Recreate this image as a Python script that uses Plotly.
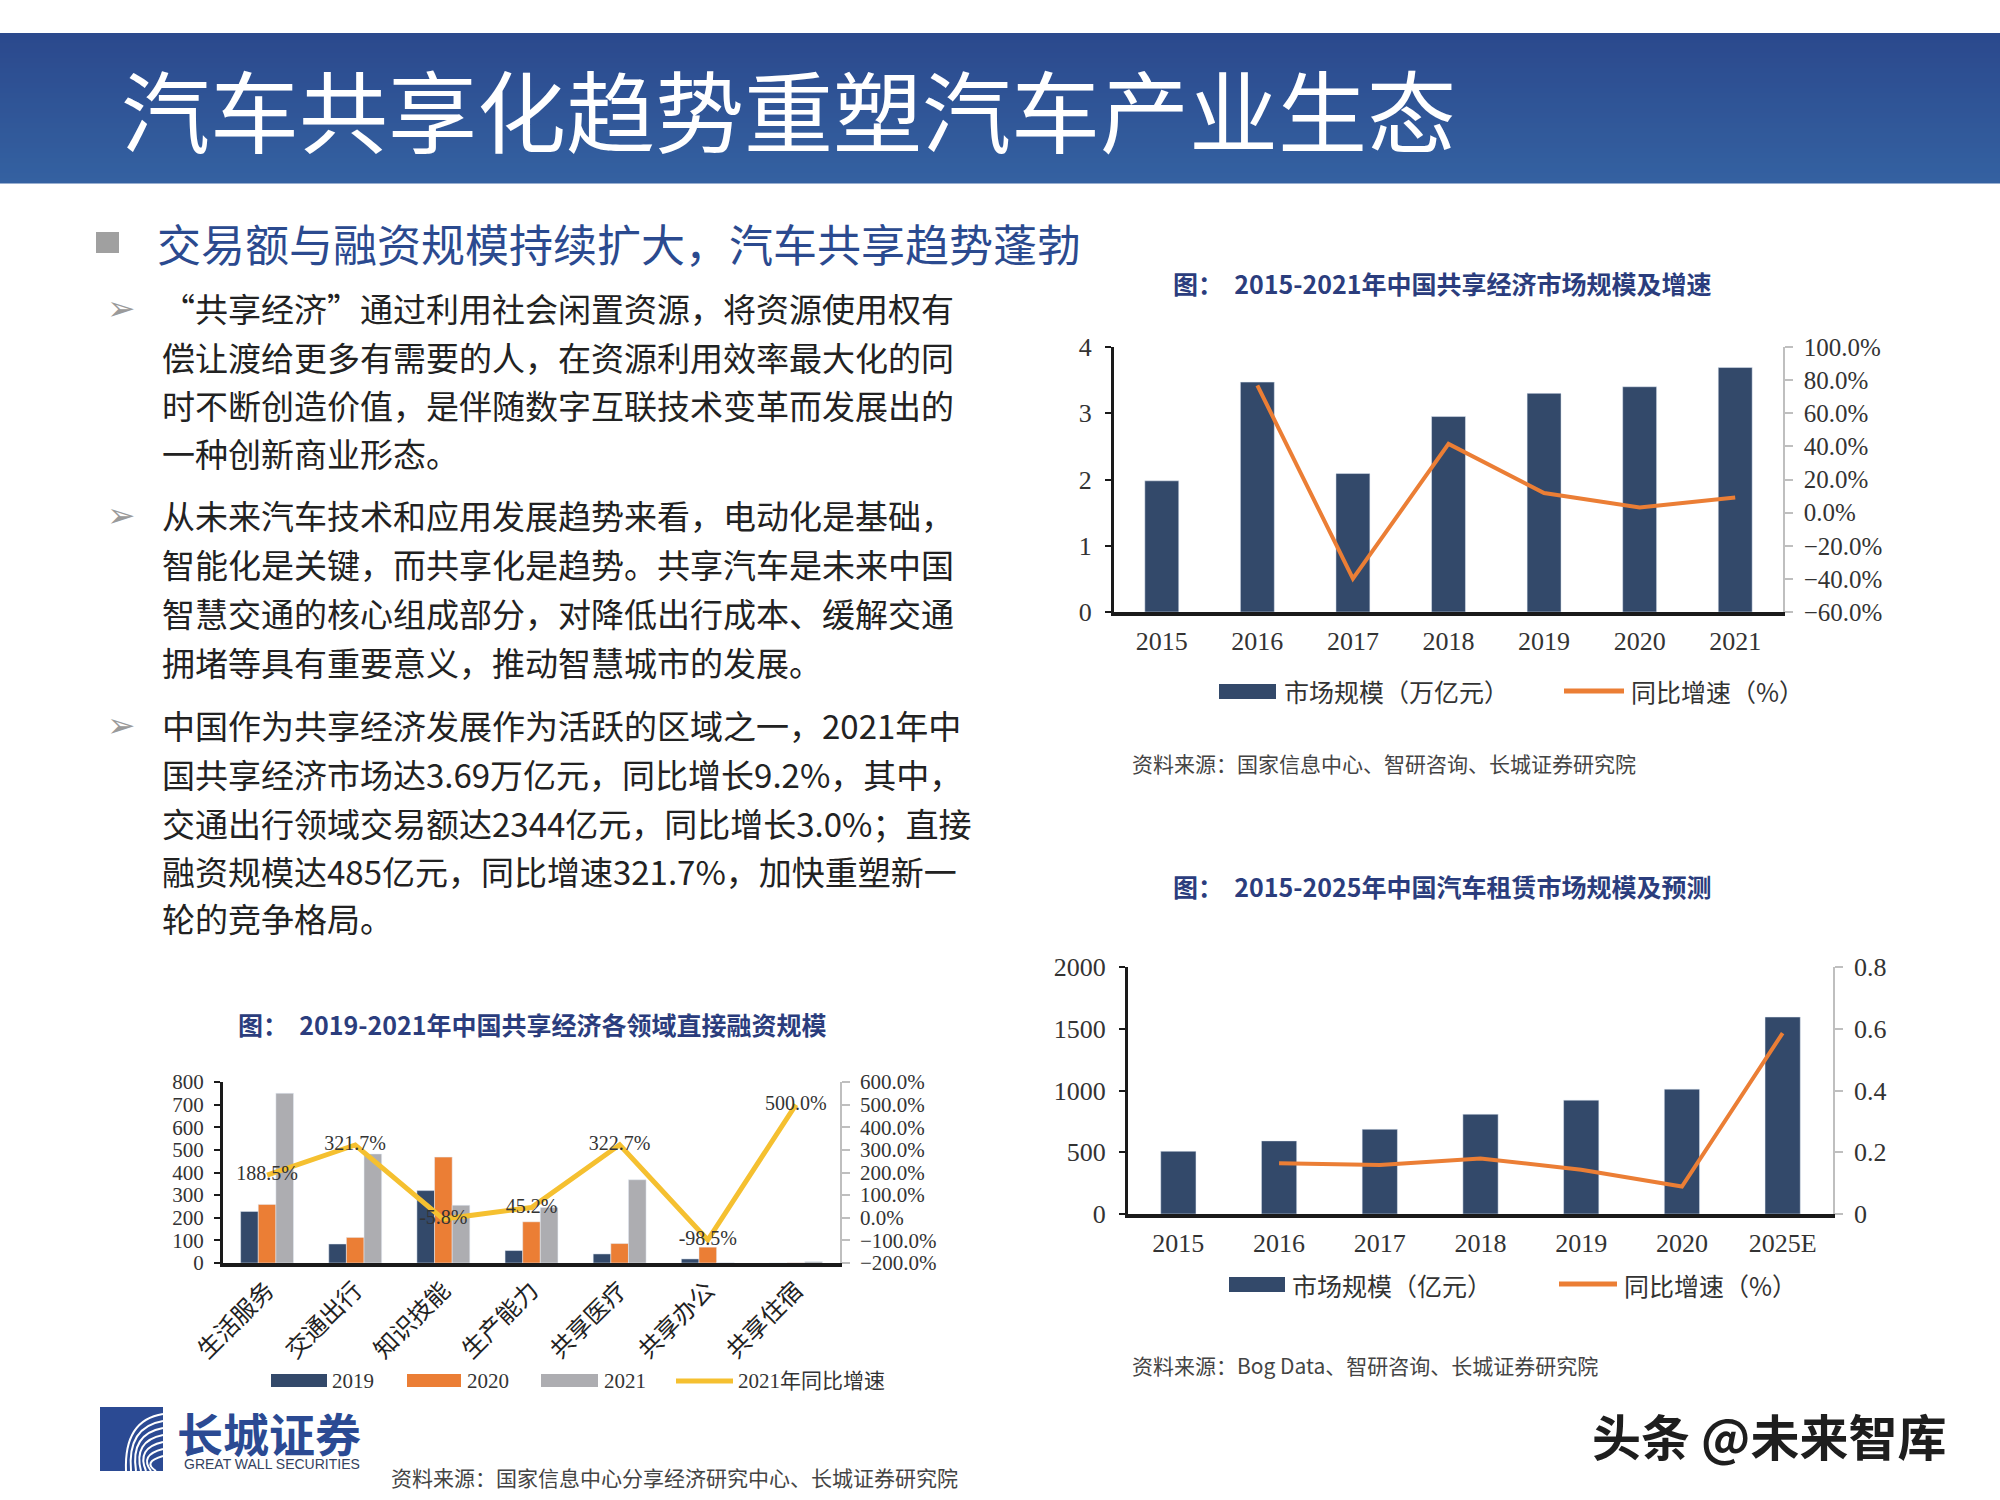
import plotly.graph_objects as go

W, H = 2000, 1500


def px(x):
    return x / W


def py(y):
    return 1 - y / H


# ---------------- data ----------------
market_years = ["2015", "2016", "2017", "2018", "2019", "2020", "2021"]
market_size = [1.98, 3.47, 2.09, 2.95, 3.30, 3.40, 3.69]
market_growth_years = ["2016", "2017", "2018", "2019", "2020", "2021"]
market_growth = [76.8, -39.8, 41.5, 11.8, 3.1, 9.2]

rental_years = ["2015", "2016", "2017", "2018", "2019", "2020", "2025E"]
rental_size = [508, 592, 686, 808, 922, 1011, 1595]
rental_growth_years = ["2016", "2017", "2018", "2019", "2020", "2025E"]
rental_growth = [0.164, 0.159, 0.180, 0.143, 0.089, 0.586]

sectors = ["生活服务", "交通出行", "知识技能", "生产能力", "共享医疗", "共享办公", "共享住宿"]
fin_2019 = [228, 84, 320, 55, 40, 18, 0]
fin_2020 = [259, 113, 468, 182, 86, 70, 1]
fin_2021 = [750, 482, 255, 245, 368, 1, 6]
fin_growth_2021 = [188.5, 321.7, -5.8, 45.2, 322.7, -98.5, 500.0]

# ---------------- styles ----------------
NAVY = "#33496a"
ORANGE = "#eb7e35"
GRAY = "#adadb1"
YELLOW = "#f5c030"
TITLE_BLUE = "#2b3d7d"
CJK = "Noto Sans CJK SC"
SERIF = "Liberation Serif, Noto Sans CJK SC"

fig = go.Figure()

# Chart A: market size (top right)
fig.add_trace(go.Bar(x=market_years, y=market_size, marker_color=NAVY, width=0.355,
                     xaxis="x", yaxis="y", showlegend=False, name="市场规模（万亿元）"))
fig.add_trace(go.Scatter(x=market_growth_years, y=market_growth, mode="lines",
                         line=dict(color=ORANGE, width=4), xaxis="x", yaxis="y2",
                         showlegend=False, name="同比增速（%）"))

# Chart B: rental market (bottom right)
fig.add_trace(go.Bar(x=rental_years, y=rental_size, marker_color=NAVY, width=0.35,
                     xaxis="x2", yaxis="y3", showlegend=False, name="市场规模（亿元）"))
fig.add_trace(go.Scatter(x=rental_growth_years, y=rental_growth, mode="lines",
                         line=dict(color=ORANGE, width=4), xaxis="x2", yaxis="y4",
                         showlegend=False, name="同比增速（%）"))

# Chart C: financing by sector (bottom left)
for vals, col, nm in [(fin_2019, NAVY, "2019"), (fin_2020, ORANGE, "2020"), (fin_2021, GRAY, "2021")]:
    fig.add_trace(go.Bar(x=sectors, y=vals, marker_color=col, xaxis="x3", yaxis="y5",
                         showlegend=False, name=nm))
fig.add_trace(go.Scatter(x=sectors, y=fin_growth_2021, mode="lines+text",
                         line=dict(color=YELLOW, width=5), xaxis="x3", yaxis="y6",
                         text=[f"{v:.1f}%" for v in fin_growth_2021],
                         textposition="middle center",
                         textfont=dict(family=SERIF, size=20, color="#333333"),
                         showlegend=False, name="2021年同比增速"))

left_axis = dict(showgrid=False, zeroline=False, showline=True, linecolor="#1a1a1a", linewidth=3,
                 ticks="outside", ticklen=6, tickwidth=2, tickcolor="#1a1a1a", automargin=False)
right_axis = dict(showgrid=False, zeroline=False, showline=True, linecolor="#bfbfbf", linewidth=1.5,
                  ticks="outside", ticklen=8, tickwidth=1.5, tickcolor="#bfbfbf", automargin=False)
x_axis = dict(showgrid=False, zeroline=False, showline=True, linecolor="#1a1a1a", linewidth=3.5,
              ticks="", type="category", fixedrange=True, automargin=False)

fig.update_layout(
    width=W, height=H, margin=dict(l=0, r=0, t=0, b=0, pad=0, autoexpand=False),
    paper_bgcolor="white", plot_bgcolor="rgba(0,0,0,0)", showlegend=False,
    barmode="group", bargap=0.4, bargroupgap=0,
    xaxis=dict(**x_axis, domain=[px(1114), px(1783)], anchor="y",
               tickfont=dict(family=SERIF, size=26, color="#333333"), ticklabelstandoff=3),
    yaxis=dict(**left_axis, domain=[py(612), py(347)], anchor="x", range=[0, 4], dtick=1,
               tickfont=dict(family=SERIF, size=26, color="#333333"), ticklabelstandoff=8),
    yaxis2=dict(**right_axis, overlaying="y", side="right", anchor="x", range=[-60, 100], dtick=20,
                tickformat=".1f", ticksuffix="%",
                tickfont=dict(family=SERIF, size=25, color="#333333"), ticklabelstandoff=6),
    xaxis2=dict(**x_axis, domain=[px(1128), px(1833)], anchor="y3",
                tickfont=dict(family=SERIF, size=26, color="#333333"), ticklabelstandoff=3),
    yaxis3=dict(**left_axis, domain=[py(1214), py(967)], anchor="x2", range=[0, 2000], dtick=500,
                tickfont=dict(family=SERIF, size=26, color="#333333"), ticklabelstandoff=8),
    yaxis4=dict(**right_axis, overlaying="y3", side="right", anchor="x2", range=[0, 0.8], dtick=0.2,
                tickfont=dict(family=SERIF, size=26, color="#333333"), ticklabelstandoff=6),
    xaxis3=dict(**x_axis, domain=[px(223), px(840)], anchor="y5", tickangle=-45,
                tickfont=dict(family=CJK, size=24, color="#222222"), ticklabelstandoff=0),
    yaxis5=dict(**left_axis, domain=[py(1263), py(1082)], anchor="x3", range=[0, 800], dtick=100,
                tickfont=dict(family=SERIF, size=21, color="#333333"), ticklabelstandoff=6),
    yaxis6=dict(**right_axis, overlaying="y5", side="right", anchor="x3", range=[-200, 600], dtick=100,
                tickformat=".1f", ticksuffix="%",
                tickfont=dict(family=SERIF, size=21, color="#333333"), ticklabelstandoff=6),
)

shapes = []
annotations = []

# header band (vertical gradient)
n = 30
top, bot = 33, 183
c0, c1 = (43, 73, 141), (52, 97, 161)
for i in range(n):
    t = i / (n - 1)
    col = "rgb(%d,%d,%d)" % tuple(round(a + (b - a) * t) for a, b in zip(c0, c1))
    y0 = top + (bot - top) * i / n
    y1 = top + (bot - top) * (i + 1) / n + 0.6
    shapes.append(dict(type="rect", xref="paper", yref="paper", x0=0, x1=1, y0=py(y1), y1=py(y0),
                       fillcolor=col, line=dict(width=0), layer="below"))

annotations.append(dict(text="汽车共享化趋势重塑汽车产业生态", x=px(119), y=py(108), xref="paper", yref="paper",
                        xanchor="left", yanchor="middle", showarrow=False,
                        font=dict(family=CJK, size=89, color="white")))

# section heading
shapes.append(dict(type="rect", xref="paper", yref="paper", x0=px(96), x1=px(119), y0=py(253), y1=py(232),
                   fillcolor="#a0a0a0", line=dict(width=0)))
annotations.append(dict(text="交易额与融资规模持续扩大，汽车共享趋势蓬勃", x=px(155), y=py(243), xref="paper",
                        yref="paper", xanchor="left", yanchor="middle", showarrow=False,
                        font=dict(family=CJK, size=44, color="#2b4a8f")))

# body text
paragraphs = [
    (["“共享经济”通过利用社会闲置资源，将资源使用权有",
      "偿让渡给更多有需要的人，在资源利用效率最大化的同",
      "时不断创造价值，是伴随数字互联技术变革而发展出的",
      "一种创新商业形态。"], [308, 357, 405, 453]),
    (["从未来汽车技术和应用发展趋势来看，电动化是基础，",
      "智能化是关键，而共享化是趋势。共享汽车是未来中国",
      "智慧交通的核心组成部分，对降低出行成本、缓解交通",
      "拥堵等具有重要意义，推动智慧城市的发展。"], [515, 564, 613, 662]),
    (["中国作为共享经济发展作为活跃的区域之一，2021年中",
      "国共享经济市场达3.69万亿元，同比增长9.2%，其中，",
      "交通出行领域交易额达2344亿元，同比增长3.0%；直接",
      "融资规模达485亿元，同比增速321.7%，加快重塑新一",
      "轮的竞争格局。"], [725, 774, 823, 871, 918]),
]
for lines, ys in paragraphs:
    annotations.append(dict(text="➢", x=px(121), y=py(ys[0]), xref="paper", yref="paper",
                            xanchor="center", yanchor="middle", showarrow=False,
                            font=dict(family="DejaVu Sans", size=34, color="#9a9a9a")))
    for ln, yy in zip(lines, ys):
        annotations.append(dict(text=ln, x=px(160), y=py(yy), xref="paper", yref="paper",
                                xanchor="left", yanchor="middle", showarrow=False,
                                font=dict(family=CJK, size=33, color="#222222")))

# chart titles
for txt, x, y in [("图：  2015-2021年中国共享经济市场规模及增速", 1171, 283),
                  ("图：  2015-2025年中国汽车租赁市场规模及预测", 1171, 886),
                  ("图：  2019-2021年中国共享经济各领域直接融资规模", 236, 1024)]:
    annotations.append(dict(text="<b>" + txt + "</b>", x=px(x), y=py(y), xref="paper", yref="paper",
                            xanchor="left", yanchor="middle", showarrow=False,
                            font=dict(family=CJK, size=25, color=TITLE_BLUE)))


def legend_box(x0, x1, y0, y1, color):
    shapes.append(dict(type="rect", xref="paper", yref="paper", x0=px(x0), x1=px(x1), y0=py(y1), y1=py(y0),
                       fillcolor=color, line=dict(width=0)))


def legend_line(x0, x1, y, color, w):
    shapes.append(dict(type="line", xref="paper", yref="paper", x0=px(x0), x1=px(x1), y0=py(y), y1=py(y),
                       line=dict(color=color, width=w)))


def legend_text(txt, x, y, size, family=CJK):
    annotations.append(dict(text=txt, x=px(x), y=py(y), xref="paper", yref="paper", xanchor="left",
                            yanchor="middle", showarrow=False,
                            font=dict(family=family, size=size, color="#333333")))


# chart A legend
legend_box(1219, 1276, 684, 699, NAVY)
legend_text("市场规模（万亿元）", 1282, 691, 25)
legend_line(1564, 1624, 691, ORANGE, 5)
legend_text("同比增速（%）", 1629, 691, 25)
# chart B legend
legend_box(1229, 1285, 1277, 1292, NAVY)
legend_text("市场规模（亿元）", 1290, 1285, 25)
legend_line(1559, 1617, 1284, ORANGE, 5)
legend_text("同比增速（%）", 1622, 1285, 25)
# chart C legend
legend_box(271, 327, 1374, 1387, NAVY)
legend_text("2019", 330, 1381, 21, SERIF)
legend_box(407, 461, 1374, 1387, ORANGE)
legend_text("2020", 465, 1381, 21, SERIF)
legend_box(541, 598, 1374, 1387, GRAY)
legend_text("2021", 602, 1381, 21, SERIF)
legend_line(676, 733, 1381, YELLOW, 5)
legend_text("2021年同比增速", 736, 1381, 21, SERIF)

# sources
for txt, x, y in [("资料来源：国家信息中心、智研咨询、长城证券研究院", 1130, 763),
                  ("资料来源：Bog Data、智研咨询、长城证券研究院", 1130, 1365),
                  ("资料来源：国家信息中心分享经济研究中心、长城证券研究院", 389, 1477)]:
    annotations.append(dict(text=txt, x=px(x), y=py(y), xref="paper", yref="paper", xanchor="left",
                            yanchor="middle", showarrow=False,
                            font=dict(family=CJK, size=21, color="#444444")))

# logo
LOGO_BLUE = "#2b4a93"
shapes.append(dict(type="rect", xref="paper", yref="paper", x0=px(100), x1=px(163), y0=py(1471), y1=py(1407),
                   fillcolor=LOGO_BLUE, line=dict(width=0)))
for i in range(7):
    sx, sy = 163, 1414 + i * 7
    cx, cy = 124 + i * 3, 1420 + i * 7
    ex, ey = 126 + i * 5, 1471
    path = "M %f,%f Q %f,%f %f,%f" % (px(sx), py(sy), px(cx), py(cy), px(ex), py(ey))
    shapes.append(dict(type="path", xref="paper", yref="paper", path=path,
                       line=dict(color="white", width=2)))
annotations.append(dict(text="<b>长城证券</b>", x=px(175), y=py(1432), xref="paper", yref="paper",
                        xanchor="left", yanchor="middle", showarrow=False,
                        font=dict(family=CJK, size=46, color=LOGO_BLUE)))
annotations.append(dict(text="GREAT WALL SECURITIES", x=px(182), y=py(1464), xref="paper", yref="paper",
                        xanchor="left", yanchor="middle", showarrow=False,
                        font=dict(family="Liberation Sans Narrow, Liberation Sans", size=14, color="#33415e")))

# watermark
annotations.append(dict(text="<b>头条 @未来智库</b>", x=px(1590), y=py(1434), xref="paper", yref="paper",
                        xanchor="left", yanchor="middle", showarrow=False,
                        font=dict(family=CJK, size=49, color="#1e1e1e")))

fig.update_layout(shapes=shapes, annotations=annotations)
fig.write_html("out.html", config={"displayModeBar": False},
               post_script="document.body.style.margin='0';document.body.style.padding='0';")
